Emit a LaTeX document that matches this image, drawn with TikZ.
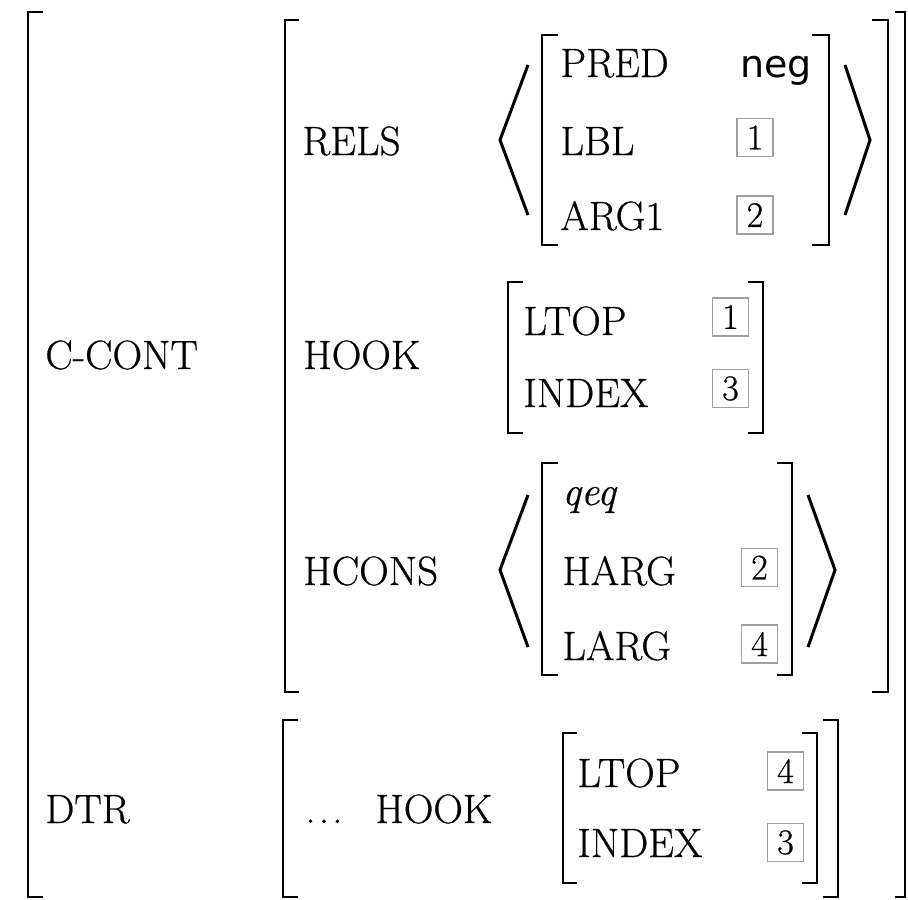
\documentclass[tikz,border=0pt]{standalone}
\usepackage{fontspec}
\setmainfont{Latin Modern Roman}[FakeBold=0.6]
\newfontfamily\predfont{DejaVu Sans}

\begin{document}
\begin{tikzpicture}[x=0.5pt,y=-0.5pt]
        \tikzstyle{feat}=[anchor=base west,inner sep=0pt,font=\fontsize{20.5}{24}\selectfont]
        \tikzstyle{tagbox}=[draw=gray!75,line width=0.8pt,minimum width=18pt,minimum height=19pt,inner sep=0pt,font=\fontsize{18}{20}\selectfont]
        \tikzstyle{avmbrack}=[line width=1.4pt]
        \tikzstyle{seqmark}=[line width=1.5pt,line join=miter]
        \useasboundingbox (0,0) rectangle (908,899);

        % outer matrix
        \draw[avmbrack] (43,12) -| (28,897) -- (43,897);
        \draw[avmbrack] (895,12) -| (905,897) -- (895,897);
        \node[feat] (ccont) at (45,369)  {C-CONT};
        \node[feat] (dtr)   at (45,823)  {DTR};

        % C-CONT value
        \draw[avmbrack] (299,20) -| (285,692) -- (299,692);
        \draw[avmbrack] (872,20) -| (888,692) -- (872,692);
        \node[feat] (rels)  at (302,155) {RELS};
        \node[feat] (hook)  at (303,369) {HOOK};
        \node[feat] (hcons) at (303,585) {HCONS};

        % RELS list
        \draw[seqmark] (528,65) -- (500,140) -- (528,215);
        \draw[seqmark] (845,65) -- (870,140) -- (845,215);
        \draw[avmbrack] (558,35) -| (542,245) -- (558,245);
        \draw[avmbrack] (812,35) -| (829,245) -- (812,245);
        \node[feat] (pred) at (560,77)  {PRED};
        \node[anchor=base west,inner sep=0pt,font=\predfont\fontsize{19}{22}\selectfont] (neg) at (740,77) {neg};
        \node[feat] (lbl)  at (560,155) {LBL};
        \node[tagbox] (lbltag) at (755,137.5) {1};
        \node[feat] (arg)  at (560,230) {ARG1};
        \node[tagbox] (argtag) at (755,215) {2};

        % HOOK
        \draw[avmbrack] (523,282) -| (508,433) -- (523,433);
        \draw[avmbrack] (748,282) -| (763,433) -- (748,433);
        \node[feat] (ltop)  at (523,335) {LTOP};
        \node[tagbox] (ltoptag) at (730.5,317) {1};
        \node[feat] (index) at (523,407) {INDEX};
        \node[tagbox] (indextag) at (730.5,388.5) {3};

        % HCONS list
        \draw[seqmark] (528,495) -- (500,570) -- (528,647);
        \draw[seqmark] (808,495) -- (835,570) -- (808,647);
        \draw[avmbrack] (558,463) -| (542,675) -- (558,675);
        \draw[avmbrack] (777,463) -| (792,675) -- (777,675);
        \node[feat] (qeq)  at (562,505) {\itshape qeq};
        \node[feat] (harg) at (562,585) {HARG};
        \node[tagbox] (hargtag) at (759.5,567.5) {2};
        \node[feat] (larg) at (562,660) {LARG};
        \node[tagbox] (largtag) at (759.5,644) {4};

        % DTR value
        \draw[avmbrack] (298,720) -| (283,897) -- (298,897);
        \draw[avmbrack] (823,720) -| (838,897) -- (823,897);
        \node[feat] (dots)    at (305,823) {.\hspace{1.6pt}.\hspace{1.6pt}.};
        \node[feat] (dtrhook) at (375,823) {HOOK};
        \draw[avmbrack] (577,733) -| (563,883) -- (577,883);
        \draw[avmbrack] (802,733) -| (817,883) -- (802,883);
        \node[feat] (dltop)  at (577,787) {LTOP};
        \node[tagbox] (dltoptag) at (785.5,771) {4};
        \node[feat] (dindex) at (577,857) {INDEX};
        \node[tagbox] (dindextag) at (785.5,842.5) {3};
\end{tikzpicture}
\end{document}
